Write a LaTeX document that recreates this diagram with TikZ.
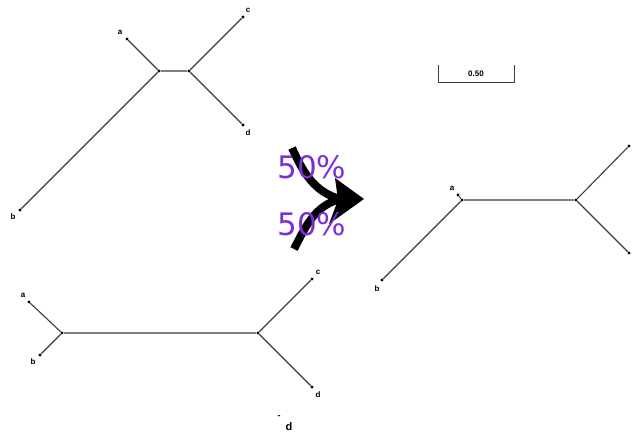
\documentclass[tikz,border=0pt]{standalone}
\usepackage{fontspec}
\setmainfont{Liberation Sans}
\newfontfamily\pctfont{DejaVu Sans}
\definecolor{edgegray}{RGB}{60,60,60}
\definecolor{pctpurple}{RGB}{125,45,215}
\begin{document}
\begin{tikzpicture}[x=1pt,y=-1pt,
  vtx/.style={circle,fill=black,inner sep=0pt,minimum size=3.4pt},
  edge/.style={draw=edgegray,line width=1.1pt},
  lab/.style={font=\bfseries\fontsize{8}{9}\selectfont,inner sep=0pt},
  pct/.style={font=\pctfont\fontsize{31}{33}\selectfont,text=pctpurple,inner sep=0pt},
  bigarrow/.style={line width=8pt,black}]
\useasboundingbox (0,0) rectangle (632,434);
% top tree
\node[vtx] (ta) at (127,39) {};
\node[vtx] (tb) at (20,210) {};
\node[vtx] (tc) at (243,17) {};
\node[vtx] (td) at (243,125) {};
\node[vtx] (tl) at (159,71) {};
\node[vtx] (tr) at (189,71) {};
\draw[edge] (ta) -- (tl) (tb) -- (tl) (tl) -- (tr) (tr) -- (tc) (tr) -- (td);
\node[lab] (tal) at (120,32) {a};
\node[lab] (tbl) at (13,217) {b};
\node[lab] (tcl) at (248,10) {c};
\node[lab] (tdl) at (248,133) {d};
% bottom tree
\node[vtx] (ba) at (29,302) {};
\node[vtx] (bb) at (40,355) {};
\node[vtx] (bc) at (312,279) {};
\node[vtx] (bd) at (312,387) {};
\node[vtx] (bl) at (62,333) {};
\node[vtx] (br) at (258,333) {};
\draw[edge] (ba) -- (bl) (bb) -- (bl) (bl) -- (br) (br) -- (bc) (br) -- (bd);
\node[lab] (bal) at (23,295) {a};
\node[lab] (bbl) at (33,362) {b};
\node[lab] (bcl) at (318,272) {c};
\node[lab] (bdl) at (318,395) {d};
\node[inner sep=0pt,font=\bfseries\fontsize{9}{10}\selectfont] (dash) at (279,417) {-};
\node[inner sep=0pt,font=\bfseries\fontsize{11}{12}\selectfont] (bigd) at (289,427) {d};
% right tree
\node[vtx] (ra) at (458,195) {};
\node[vtx] (rb) at (382,280) {};
\node[vtx] (rc) at (629,146) {};
\node[vtx] (rd) at (629,253) {};
\node[vtx] (rl) at (462,200) {};
\node[vtx] (rr) at (576,200) {};
\draw[edge] (ra) -- (rl) (rb) -- (rl) (rl) -- (rr) (rr) -- (rc) (rr) -- (rd);
\node[lab] (ral) at (452,188) {a};
\node[lab] (rbl) at (377,289) {b};
% scale bar
\coordinate (s1) at (438,65);
\coordinate (s2) at (438,82);
\coordinate (s3) at (514,82);
\coordinate (s4) at (514,65);
\draw[edgegray,line width=1pt] (s1) -- (s2) -- (s3) -- (s4);
\node[lab] (sbl) at (476,74) {0.50};
% merging arrow
\coordinate (u0) at (292,148);
\coordinate (l0) at (294,249);
\coordinate (m) at (340,199);
\draw[bigarrow] (u0) .. controls (303,172) and (314,192) .. (m);
\draw[bigarrow] (l0) .. controls (305,228) and (314,206) .. (m);
\coordinate (h1) at (335,178);
\coordinate (h2) at (364,199);
\coordinate (h3) at (329,224);
\coordinate (h4) at (338,200);
\fill[black] (h1) -- (h2) -- (h3) -- (h4) -- cycle;
% percentages
\node[pct] (p1) at (312,167) {50\%};
\node[pct] (p2) at (312,224) {50\%};
\end{tikzpicture}
\end{document}
